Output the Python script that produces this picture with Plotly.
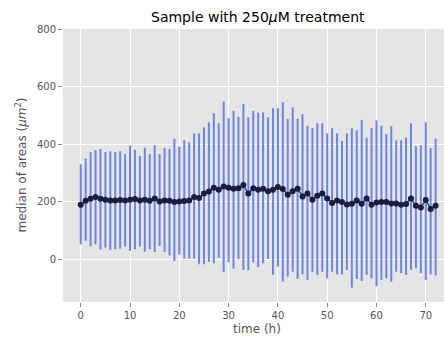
import plotly.graph_objects as go

time_h = list(range(73))
median_area = [190, 204, 211, 217, 211, 208, 205, 205, 207, 205, 208, 210, 205, 208, 204, 212, 202, 205, 204, 200,
               202, 203, 205, 217, 214, 229, 236, 249, 242, 254, 249, 246, 248, 259, 229, 248, 242, 246, 237, 242,
               252, 245, 225, 237, 246, 219, 229, 208, 222, 229, 212, 196, 205, 200, 191, 194, 205, 194, 212, 190,
               198, 200, 200, 195, 195, 190, 193, 212, 187, 181, 207, 176, 187]
upper = [331, 350, 373, 380, 384, 373, 376, 373, 376, 366, 395, 381, 360, 388, 366, 397, 366, 388, 384, 419,
         391, 415, 407, 438, 438, 459, 476, 508, 473, 548, 490, 516, 495, 540, 494, 516, 510, 511, 494, 525,
         525, 546, 488, 528, 488, 504, 464, 456, 473, 473, 438, 456, 438, 412, 438, 456, 449, 485, 423, 456,
         483, 464, 435, 463, 414, 414, 423, 473, 393, 397, 476, 387, 419]
lower = [53, 65, 47, 53, 36, 42, 33, 36, 38, 45, 30, 36, 45, 27, 36, 27, 47, 27, 15, -5,
         18, 3, 3, 3, -16, -16, -8, -13, 7, -43, -10, -31, 1, -36, -37, -10, -26, -13, 2, -53,
         -24, -76, -59, -42, -67, -51, -70, -42, -53, -42, -65, -42, -51, -51, -36, -97, -67, -74, -53, -65,
         -93, -70, -65, -76, -42, -47, -53, -36, -30, -47, -70, -51, -55]
x_ticks = [0, 10, 20, 30, 40, 50, 60, 70]
y_ticks = [0, 200, 400, 600, 800]

err_plus = [u - m for u, m in zip(upper, median_area)]
err_minus = [m - l for m, l in zip(median_area, lower)]

fig = go.Figure()
fig.add_trace(go.Scatter(
    x=time_h, y=median_area, mode="lines+markers",
    line=dict(color="#2c3f9a", width=1.5),
    marker=dict(color="#1b1d3f", size=6),
    error_y=dict(type="data", array=err_plus, arrayminus=err_minus, symmetric=False,
                 color="#6f86e0", thickness=2, width=0),
    showlegend=False,
))

fig.update_layout(
    width=444, height=338,
    margin=dict(l=63, r=0, t=29, b=36),
    paper_bgcolor="white", plot_bgcolor="#e5e5e5",
    font=dict(family="DejaVu Sans", color="#555555", size=10),
    xaxis=dict(range=[-3.6, 73.7], tickvals=x_ticks, showgrid=True, gridcolor="white", gridwidth=1,
               zeroline=False, ticks="outside", ticklen=4, tickcolor="#888888",
               tickfont=dict(size=10, color="#555555")),
    yaxis=dict(range=[-147, 800], tickvals=y_ticks, showgrid=True, gridcolor="white", gridwidth=1,
               zeroline=False, ticks="outside", ticklen=4, tickcolor="#888888",
               tickfont=dict(size=10, color="#555555")),
    annotations=[
        dict(text="Sample with 250<i>μ</i>M treatment", xref="paper", yref="paper",
             x=(258 - 63) / 381, y=1, yshift=12, showarrow=False,
             font=dict(size=14, color="black", family="DejaVu Sans"), xanchor="center", yanchor="middle"),
        dict(text="time (h)", xref="paper", yref="paper", x=(257 - 63) / 381, y=0, yshift=-27,
             showarrow=False, font=dict(size=12, color="#555555"), xanchor="center", yanchor="middle"),
        dict(text="median of areas (<i>μm</i><sup>2</sup>)", xref="paper", yref="paper",
             x=0, xshift=-43, y=0.5, textangle=-90, showarrow=False,
             font=dict(size=12, color="#555555"), xanchor="center", yanchor="middle"),
    ],
)

fig.write_html("out.html")
